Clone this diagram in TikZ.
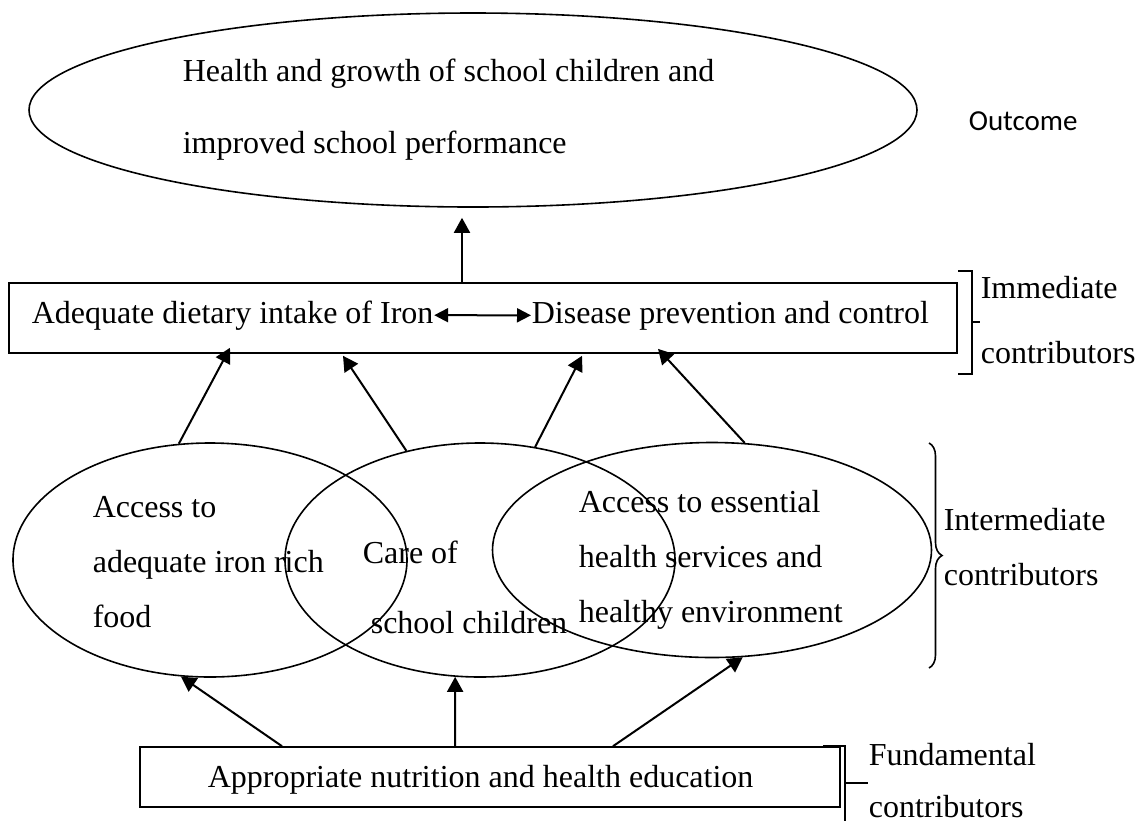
\documentclass[tikz,border=0pt]{standalone}
\usepackage{fontspec}
\setmainfont{Liberation Serif}
\newfontfamily\calibrifont{Carlito}
\usetikzlibrary{shapes.geometric,arrows.meta,decorations.pathreplacing}

\begin{document}
\begin{tikzpicture}[x=0.5pt,y=-0.5pt,line width=0.8pt,
    oval/.style={draw,ellipse,inner sep=0pt},
    plainbox/.style={draw,rectangle,inner sep=0pt},
    txt/.style={anchor=base west,inner sep=0pt,font=\fontsize{16}{19}\selectfont},
    arr/.style={line width=1pt,-{Triangle[length=7.5pt,width=8pt]}}]
  \useasboundingbox (0,0) rectangle (1147,821);

  % outcome
  \node[oval,minimum width=444pt,minimum height=97pt] (goal) at (473,110) {};
  \node[txt] (goalA) at (182,81) {Health and growth of school children and};
  \node[txt] (goalB) at (182,153) {improved school performance};
  \node[anchor=base west,inner sep=0pt,font=\calibrifont\fontsize{14.5}{17}\selectfont] (outc) at (968,130) {Outcome};

  % immediate contributors
  \node[plainbox,minimum width=474pt,minimum height=35pt] (box) at (483,318) {};
  \node[txt] (iron) at (31,323) {Adequate dietary intake of Iron};
  \node[txt] (disease) at (531,323) {Disease prevention and control};
  \draw[line width=1pt,{Triangle[length=7pt,width=7pt]}-{Triangle[length=7pt,width=7pt]}] (iron.east) -- (disease.west);
  \draw[arr] ([xshift=-10.5pt]box.north) -- ([xshift=-5.5pt,yshift=-5pt]goal.south);

  % intermediate contributors
  \node[oval,minimum width=197pt,minimum height=117pt] (food) at (210,560) {};
  \node[oval,minimum width=195pt,minimum height=117pt] (care) at (480,560) {};
  \node[oval,minimum width=219.5pt,minimum height=107.5pt] (health) at (712,550) {};

  \node[txt] (foodA) at (92,517) {Access to};
  \node[txt] (foodB) at (92,572) {adequate iron rich};
  \node[txt] (foodC) at (92,627) {food};
  \node[txt] (careA) at (362,563) {Care of};
  \node[txt] (careB) at (370,633) {school children};
  \node[txt] (healthA) at (578,512) {Access to essential};
  \node[txt] (healthB) at (578,567) {health services and};
  \node[txt] (healthC) at (578,622) {healthy environment};

  \draw[arr] (food.105) -- ([xshift=-126.5pt,yshift=3pt]box.south);
  \draw[arr] (care.124) -- ([xshift=-70pt,yshift=-1pt]box.south);
  \draw[arr] (care.64) -- ([xshift=49.5pt,yshift=-1pt]box.south);
  \draw[arr] (health.73) -- ([xshift=87.5pt,yshift=2.5pt]box.south);

  % fundamental contributors
  \node[plainbox,minimum width=350pt,minimum height=30pt] (edu) at (490,777) {};
  \node[txt] (eduT) at (207,787) {Appropriate nutrition and health education};
  \draw[arr] ([xshift=-104pt]edu.north) -- (food.-104);
  \draw[arr] ([xshift=-17.5pt]edu.north) -- (care.-102);
  \draw[arr] ([xshift=61.5pt]edu.north) -- (health.-74);

  % brackets on the right
  \draw (958,271) -- (972,271) -- (972,374) -- (958,374);
  \draw (972,322) -- (980,322);
  \draw[decorate,decoration={brace,amplitude=6.5pt}] (929,443) -- (929,668);
  \draw (823,746) -- (845,746) -- (845,821);
  \draw (845,783) -- (868,783);

  \node[txt] (immA) at (980,298) {Immediate};
  \node[txt] (immB) at (980,363) {contributors};
  \node[txt] (intA) at (943,530) {Intermediate};
  \node[txt] (intB) at (943,585) {contributors};
  \node[txt] (funA) at (868,765) {Fundamental};
  \node[txt] (funB) at (868,817) {contributors};
\end{tikzpicture}
\end{document}
